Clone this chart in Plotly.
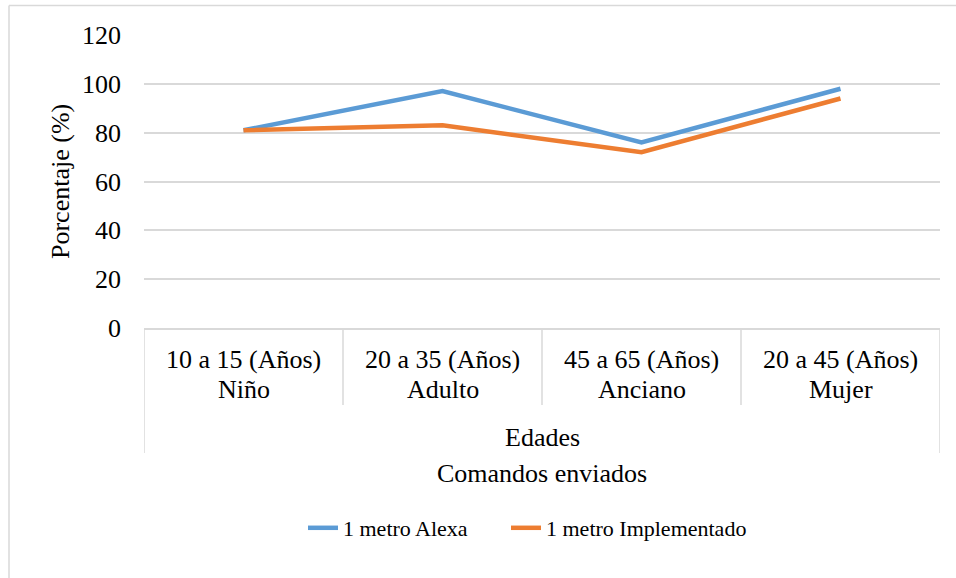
import plotly.graph_objects as go

categories = ["10 a 15 (Años)", "20 a 35 (Años)", "45 a 65 (Años)", "20 a 45 (Años)"]
groups = ["Niño", "Adulto", "Anciano", "Mujer"]
outer_label = "Edades"
x_title = "Comandos enviados"
y_title = "Porcentaje (%)"
alexa = [81, 97, 76, 98]
implementado = [81, 83, 72, 94]
series_names = ["1 metro Alexa", "1 metro Implementado"]
y_ticks = [0, 20, 40, 60, 80, 100, 120]

FONT = "Liberation Serif"
W, H = 956, 578
L, R, T, B = 144, 16, 35, 250
PW, PH = W - L - R, H - T - B

def px_y(py):
    return (H - B - py) / PH

def px_x(pxv):
    return (pxv - L) / PW

xpos = [i + 0.5 for i in range(len(categories))]

fig = go.Figure()
fig.add_trace(go.Scatter(x=xpos, y=alexa, mode="lines", name=series_names[0],
                         line=dict(color="#5B9BD5", width=4.5), legend="legend"))
fig.add_trace(go.Scatter(x=xpos, y=implementado, mode="lines", name=series_names[1],
                         line=dict(color="#ED7D31", width=4.5), legend="legend2"))

shapes = []
n = len(categories)
for i in range(n + 1):
    outer = i == 0 or i == n
    shapes.append(dict(type="line", xref="x", yref="paper", x0=i, x1=i,
                       y0=0, y1=px_y(453 if outer else 405),
                       line=dict(color="#D9D9D9", width=1.5)))
# outer chart border (left and top)
shapes.append(dict(type="line", xref="paper", yref="paper", x0=px_x(9), x1=px_x(9),
                   y0=px_y(580), y1=px_y(5.5), line=dict(color="#D9D9D9", width=1.5)))
shapes.append(dict(type="line", xref="paper", yref="paper", x0=px_x(9), x1=px_x(958),
                   y0=px_y(5.5), y1=px_y(5.5), line=dict(color="#D9D9D9", width=1.5)))

tf = dict(family=FONT, size=26, color="#000")
lf = dict(family=FONT, size=22, color="#000")
annotations = []
for i, (c, g) in enumerate(zip(categories, groups)):
    annotations.append(dict(x=xpos[i], y=px_y(359), xref="x", yref="paper", text=c,
                            showarrow=False, font=tf, xanchor="center", yanchor="middle"))
    annotations.append(dict(x=xpos[i], y=px_y(389), xref="x", yref="paper", text=g,
                            showarrow=False, font=tf, xanchor="center", yanchor="middle"))
annotations.append(dict(x=n / 2, y=px_y(437), xref="x", yref="paper", text=outer_label,
                        showarrow=False, font=tf, xanchor="center", yanchor="middle"))
annotations.append(dict(x=n / 2, y=px_y(474), xref="x", yref="paper", text=x_title,
                        showarrow=False, font=tf, xanchor="center", yanchor="middle"))
annotations.append(dict(x=px_x(60), y=px_y(182), xref="paper", yref="paper", text=y_title,
                        showarrow=False, textangle=-90, font=tf,
                        xanchor="center", yanchor="middle"))

leg_common = dict(orientation="h", xanchor="left", y=px_y(528), yanchor="middle",
                  font=lf, bgcolor="rgba(0,0,0,0)")

fig.update_layout(
    width=W, height=H,
    margin=dict(l=L, r=R, t=T, b=B),
    paper_bgcolor="white", plot_bgcolor="white",
    font=tf,
    showlegend=True,
    legend=dict(x=px_x(303), **leg_common),
    legend2=dict(x=px_x(506), **leg_common),
    xaxis=dict(range=[0, n], showticklabels=False, showgrid=False, zeroline=False,
               showline=True, linecolor="#D9D9D9", linewidth=1.5, ticks="", fixedrange=True),
    yaxis=dict(range=[0, 120], tickvals=y_ticks, showgrid=True, gridcolor="#D9D9D9",
               gridwidth=1.5, zeroline=False, showline=False, ticks="",
               ticklabelstandoff=22, tickfont=tf),
    shapes=shapes, annotations=annotations,
)

fig.write_html("out.html", config={"displayModeBar": False},
               post_script="document.body.style.margin='0';")
